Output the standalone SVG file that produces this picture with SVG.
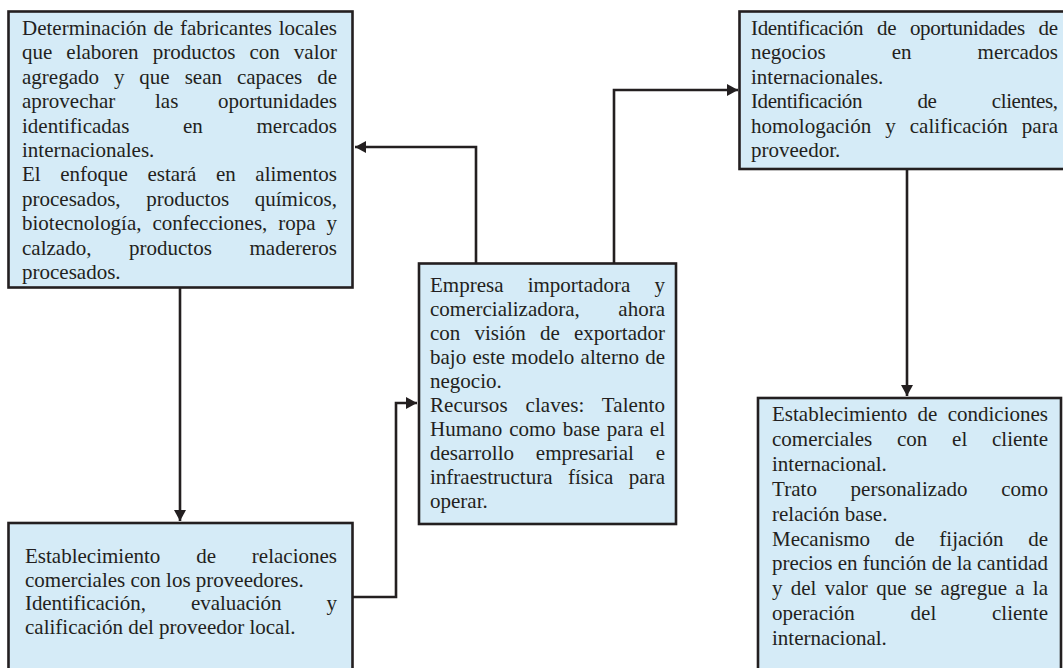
<svg xmlns="http://www.w3.org/2000/svg" width="1063" height="668" viewBox="0 0 1063 668">
<style>
.box{fill:#d5ebf7;stroke:#231f20;stroke-width:2.6}
.t{font-family:"Liberation Serif","Times New Roman",serif;font-size:21px;fill:#231f20}
.c{fill:none;stroke:#231f20;stroke-width:2.6}
</style>
<defs>
<marker id="ah" markerUnits="userSpaceOnUse" markerWidth="11" markerHeight="12" refX="11" refY="6" orient="auto">
<path d="M0,0 L11,6 L0,12 z" fill="#231f20"/>
</marker>
</defs>
<rect width="1063" height="668" fill="#ffffff"/>

<g id="connectors">
<path class="c" d="M476,263 V147 H355" marker-end="url(#ah)"/>
<path class="c" d="M614,263 V90 H738" marker-end="url(#ah)"/>
<path class="c" d="M907,169 V396" marker-end="url(#ah)"/>
<path class="c" d="M180,288 V521" marker-end="url(#ah)"/>
<path class="c" d="M353,597 H396 V403 H417" marker-end="url(#ah)"/>
</g>

<g id="node-fabricantes">
<rect class="box" x="8.5" y="11.5" width="344" height="276"/>
<text class="t" x="22" y="35" style="word-spacing:1.4px" textLength="315" lengthAdjust="spacing">Determinación de fabricantes locales</text>
<text class="t" x="22" y="59.4" style="word-spacing:8.8px" textLength="315" lengthAdjust="spacing">que elaboren productos con valor</text>
<text class="t" x="22" y="83.8" style="word-spacing:9.7px" textLength="315" lengthAdjust="spacing">agregado y que sean capaces de</text>
<text class="t" x="22" y="108.2" style="word-spacing:34.4px" textLength="315" lengthAdjust="spacing">aprovechar las oportunidades</text>
<text class="t" x="22" y="132.6" style="word-spacing:48.4px" textLength="315" lengthAdjust="spacing">identificadas en mercados</text>
<text class="t" x="22" y="157">internacionales.</text>
<text class="t" x="22" y="181.4" style="word-spacing:14.3px" textLength="315" lengthAdjust="spacing">El enfoque estará en alimentos</text>
<text class="t" x="22" y="205.8" style="word-spacing:20.4px" textLength="315" lengthAdjust="spacing">procesados, productos químicos,</text>
<text class="t" x="22" y="230.2" style="word-spacing:5.7px" textLength="315" lengthAdjust="spacing">biotecnología, confecciones, ropa y</text>
<text class="t" x="22" y="254.6" style="word-spacing:32.4px" textLength="315" lengthAdjust="spacing">calzado, productos madereros</text>
<text class="t" x="22" y="279">procesados.</text>
</g>

<g id="node-oportunidades">
<rect class="box" x="739.5" y="11.5" width="340" height="157.5"/>
<text class="t" x="751" y="35" style="word-spacing:8.8px" textLength="307" lengthAdjust="spacing">Identificación de oportunidades de</text>
<text class="t" x="751" y="59.4" style="word-spacing:60.8px" textLength="307" lengthAdjust="spacing">negocios en mercados</text>
<text class="t" x="751" y="83.8">internacionales.</text>
<text class="t" x="751" y="108.2" style="word-spacing:50.5px" textLength="307" lengthAdjust="spacing">Identificación de clientes,</text>
<text class="t" x="751" y="132.6" style="word-spacing:8.8px" textLength="307" lengthAdjust="spacing">homologación y calificación para</text>
<text class="t" x="751" y="157">proveedor.</text>
</g>

<g id="node-empresa">
<rect class="box" x="419" y="263.5" width="257" height="260.5"/>
<text class="t" x="430" y="292" style="word-spacing:18.9px" textLength="235" lengthAdjust="spacing">Empresa importadora y</text>
<text class="t" x="430" y="316" style="word-spacing:33.3px" textLength="235" lengthAdjust="spacing">comercializadora, ahora</text>
<text class="t" x="430" y="340" style="word-spacing:8.9px" textLength="235" lengthAdjust="spacing">con visión de exportador</text>
<text class="t" x="430" y="364" style="word-spacing:1px" textLength="235" lengthAdjust="spacing">bajo este modelo alterno de</text>
<text class="t" x="430" y="388">negocio.</text>
<text class="t" x="430" y="412" style="word-spacing:12.5px" textLength="235" lengthAdjust="spacing">Recursos claves: Talento</text>
<text class="t" x="430" y="436" style="word-spacing:1.6px" textLength="235" lengthAdjust="spacing">Humano como base para el</text>
<text class="t" x="430" y="460" style="word-spacing:16.6px" textLength="235" lengthAdjust="spacing">desarrollo empresarial e</text>
<text class="t" x="430" y="484" style="word-spacing:10.2px" textLength="235" lengthAdjust="spacing">infraestructura física para</text>
<text class="t" x="430" y="508">operar.</text>
</g>

<g id="node-relaciones">
<rect class="box" x="8.5" y="523" width="344" height="160"/>
<text class="t" x="25" y="563" style="word-spacing:30.6px" textLength="312" lengthAdjust="spacing">Establecimiento de relaciones</text>
<text class="t" x="25" y="586.5">comerciales con los proveedores.</text>
<text class="t" x="25" y="610" style="word-spacing:40px" textLength="312" lengthAdjust="spacing">Identificación, evaluación y</text>
<text class="t" x="25" y="633.5">calificación del proveedor local.</text>
</g>

<g id="node-condiciones">
<rect class="box" x="758" y="398" width="303" height="290"/>
<text class="t" x="772" y="421" style="word-spacing:5px" textLength="276" lengthAdjust="spacing">Establecimiento de condiciones</text>
<text class="t" x="772" y="445.9" style="word-spacing:19.5px" textLength="276" lengthAdjust="spacing">comerciales con el cliente</text>
<text class="t" x="772" y="470.8">internacional.</text>
<text class="t" x="772" y="495.7" style="word-spacing:28.3px" textLength="276" lengthAdjust="spacing">Trato personalizado como</text>
<text class="t" x="772" y="520.6">relación base.</text>
<text class="t" x="772" y="545.5" style="word-spacing:19.5px" textLength="276" lengthAdjust="spacing">Mecanismo de fijación de</text>
<text class="t" x="772" y="570.4" textLength="276" lengthAdjust="spacing">precios en función de la cantidad</text>
<text class="t" x="772" y="595.3" style="word-spacing:3px" textLength="276" lengthAdjust="spacing">y del valor que se agregue a la</text>
<text class="t" x="772" y="620.2" style="word-spacing:50.5px" textLength="276" lengthAdjust="spacing">operación del cliente</text>
<text class="t" x="772" y="645">internacional.</text>
</g>
</svg>
